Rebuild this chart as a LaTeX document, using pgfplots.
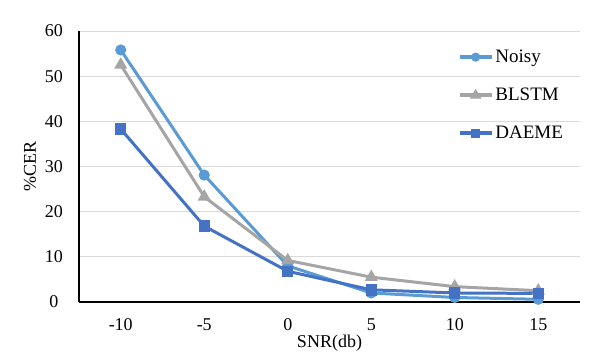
\documentclass[border=0pt]{standalone}
\usepackage{fontspec}
\setmainfont{Liberation Serif}
\usepackage{pgfplots}
\pgfplotsset{compat=1.18}
\definecolor{noisy}{HTML}{5B9BD5}
\definecolor{blstm}{HTML}{A5A5A5}
\definecolor{daeme}{HTML}{4472C4}
\begin{document}
\begin{tikzpicture}
\useasboundingbox (-79pt,-54pt) rectangle (533pt,302pt);
\begin{axis}[
  at={(0,0)}, anchor=south west,
  scale only axis, width=501pt, height=271pt,
  xmin=-0.5, xmax=5.5, ymin=0, ymax=60,
  xtick={0,...,5}, xticklabels={-10,-5,0,5,10,15},
  ytick={0,10,...,60},
  axis x line*=bottom, axis y line*=left,
  axis line style={black, line width=1.2pt, -},
  tick style={draw=none},
  ymajorgrids, grid style={gray!30, line width=1pt},
  tick label style={font=\fontsize{18}{18}\selectfont},
  /pgf/number format/assume math mode=true,
  yticklabel style={anchor=center, xshift=-25pt},
  xticklabel style={anchor=center, yshift=-23pt},
  xlabel={SNR(db)}, ylabel={\%CER},
  label style={font=\fontsize{18}{18}\selectfont},
  xlabel style={at={(axis description cs:0.5,0)}, anchor=center, yshift=-41pt},
  ylabel style={at={(axis description cs:0,0.5)}, anchor=center, yshift=49pt},
  every axis plot/.append style={line width=3pt},
  legend style={draw=none, fill=none, at={(0.75,0.945)}, anchor=north west,
    font=\fontsize{19}{19}\selectfont, row sep=20pt},
  legend cell align=left,
]
\addplot[color=noisy, mark=*, mark size=4pt,
  legend image code/.code={
    \draw[noisy, line width=3.6pt] (0cm,0cm) -- (1.12cm,0cm);
    \fill[noisy] (0.56cm,0cm) circle (3pt);}] coordinates {
  (0,55.8) (1,28.1) (2,8.0) (3,2.0) (4,1.0) (5,0.6)};
\addplot[color=blstm, mark=triangle*, mark size=4.6pt,
  legend image code/.code={
    \draw[blstm, line width=3.6pt] (0cm,0cm) -- (1.12cm,0cm);
    \fill[blstm] (0.56cm,3.4pt) -- (0.56cm-3.2pt,-1.8pt) -- (0.56cm+3.2pt,-1.8pt) -- cycle;}] coordinates {
  (0,52.5) (1,23.3) (2,9.2) (3,5.5) (4,3.4) (5,2.5)};
\addplot[color=daeme, mark=square*, mark size=4.2pt,
  legend image code/.code={
    \draw[daeme, line width=3.6pt] (0cm,0cm) -- (1.12cm,0cm);
    \fill[daeme] (0.56cm-3pt,-3pt) rectangle (0.56cm+3pt,3pt);}] coordinates {
  (0,38.3) (1,16.8) (2,6.8) (3,2.7) (4,2.0) (5,1.9)};
\legend{Noisy, BLSTM, DAEME}
\end{axis}
\end{tikzpicture}
\end{document}
